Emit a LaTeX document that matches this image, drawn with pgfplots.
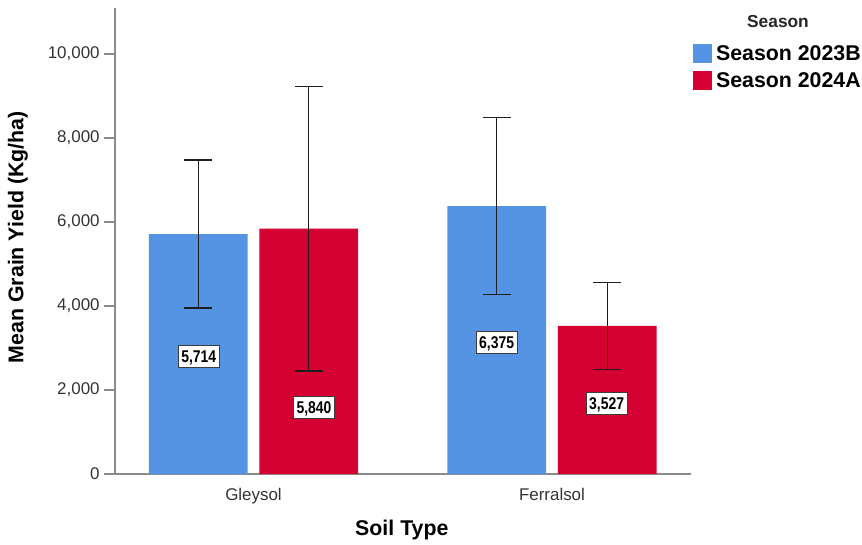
\documentclass[border=0pt]{standalone}
\usepackage{fontspec}
\setmainfont{Liberation Sans}
\newfontfamily\narrowfont[FakeStretch=0.82]{Liberation Sans}
\usepackage{pgfplots}
\pgfplotsset{compat=1.18}
\definecolor{sblue}{RGB}{85,148,227}
\definecolor{sred}{RGB}{213,0,50}
\definecolor{axisgray}{RGB}{140,140,140}
\definecolor{ticktext}{RGB}{51,51,51}
\definecolor{errc}{RGB}{30,30,30}
\definecolor{lblborder}{RGB}{60,60,60}
\begin{document}
\begin{tikzpicture}
\begin{axis}[
  at={(0,0)}, anchor=south west,
  scale only axis, width=432pt, height=349.5pt,
  xmin=-0.464, xmax=1.4657, ymin=0, ymax=11095,
  axis x line*=bottom, axis y line*=left,
  axis line style={color=axisgray, line width=0.8pt},
  xtick={0,1}, xticklabels={Gleysol,Ferralsol},
  x tick style={draw=none},
  ytick={0,2000,4000,6000,8000,10000},
  scaled y ticks=false,
  y tick style={color=axisgray, line width=0.8pt},
  tick align=outside, major tick length=8pt,
  /pgf/number format/.cd, fixed, 1000 sep={,}, assume math mode=true,
  /pgfplots/.cd,
  tick label style={font=\fontsize{12.7}{14}\selectfont, text=ticktext},
  xticklabel style={yshift=1pt},
  xlabel={Soil Type},
  ylabel={Mean Grain Yield (Kg/ha)},
  xlabel style={at={(axis description cs:0.498,-0.1202)}, anchor=center, font=\fontsize{16}{18}\selectfont\bfseries},
  ylabel style={at={(axis description cs:-0.1684,0.508)}, anchor=center, font=\fontsize{16}{18}\selectfont\bfseries},
  legend style={at={(1.0035,0.923)}, anchor=north west, draw=none, fill=none, inner sep=0pt,
    row sep=6pt, nodes={inner sep=0pt, text depth=0pt},
    font=\fontsize{16}{18}\selectfont\bfseries,
    /tikz/every odd column/.style={column sep=3.2pt}},
  legend cell align=left,
  clip=false,
]
\addlegendimage{legend image code/.code={\fill[sblue] (0pt,-6.75pt) rectangle (13.5pt,6.75pt);}}
\addlegendentry{Season 2023B}
\addlegendimage{legend image code/.code={\fill[sred] (0pt,-6.75pt) rectangle (13.5pt,6.75pt);}}
\addlegendentry{Season 2024A}

\addplot[ybar, bar width=0.3307, bar shift=0pt, fill=sblue, draw=none, forget plot,
  error bars/.cd, y dir=both, y explicit,
  error bar style={line width=1pt, color=errc},
  error mark options={rotate=90, mark size=10.4pt, line width=1pt, color=errc}]
  coordinates {(-0.1851,5714) +- (0,1760) (0.8149,6375) +- (0,2107)};
\addplot[ybar, bar width=0.3307, bar shift=0pt, fill=sred, draw=none, forget plot,
  error bars/.cd, y dir=both, y explicit,
  error bar style={line width=1pt, color=errc},
  error mark options={rotate=90, mark size=10.4pt, line width=1pt, color=errc}]
  coordinates {(0.1851,5840) +- (0,3388) (1.1851,3527) +- (0,1032)};

\addplot[only marks, mark=none, forget plot, nodes near coords, point meta=explicit symbolic,
  every node near coord/.append style={anchor=center, fill=white, draw=lblborder, line width=0.8pt,
    font=\narrowfont\bfseries\fontsize{12.75}{14}\selectfont, text=black,
    inner xsep=2.2pt, inner ysep=3.6pt, text height=9.2pt, text depth=0pt}]
  table[meta=label] {
x y label
-0.1836 2793 5,714
0.2027 1588 5,840
0.8147 3136 6,375
1.1832 1683 3,527
};
\end{axis}
\node[font=\fontsize{13}{15}\selectfont\bfseries, text=black!85] at (497.25pt,339pt) {Season};
\pgfresetboundingbox
\path[use as bounding box] (-86.25pt,-52.5pt) rectangle (560.25pt,355.5pt);
\end{tikzpicture}
\end{document}
